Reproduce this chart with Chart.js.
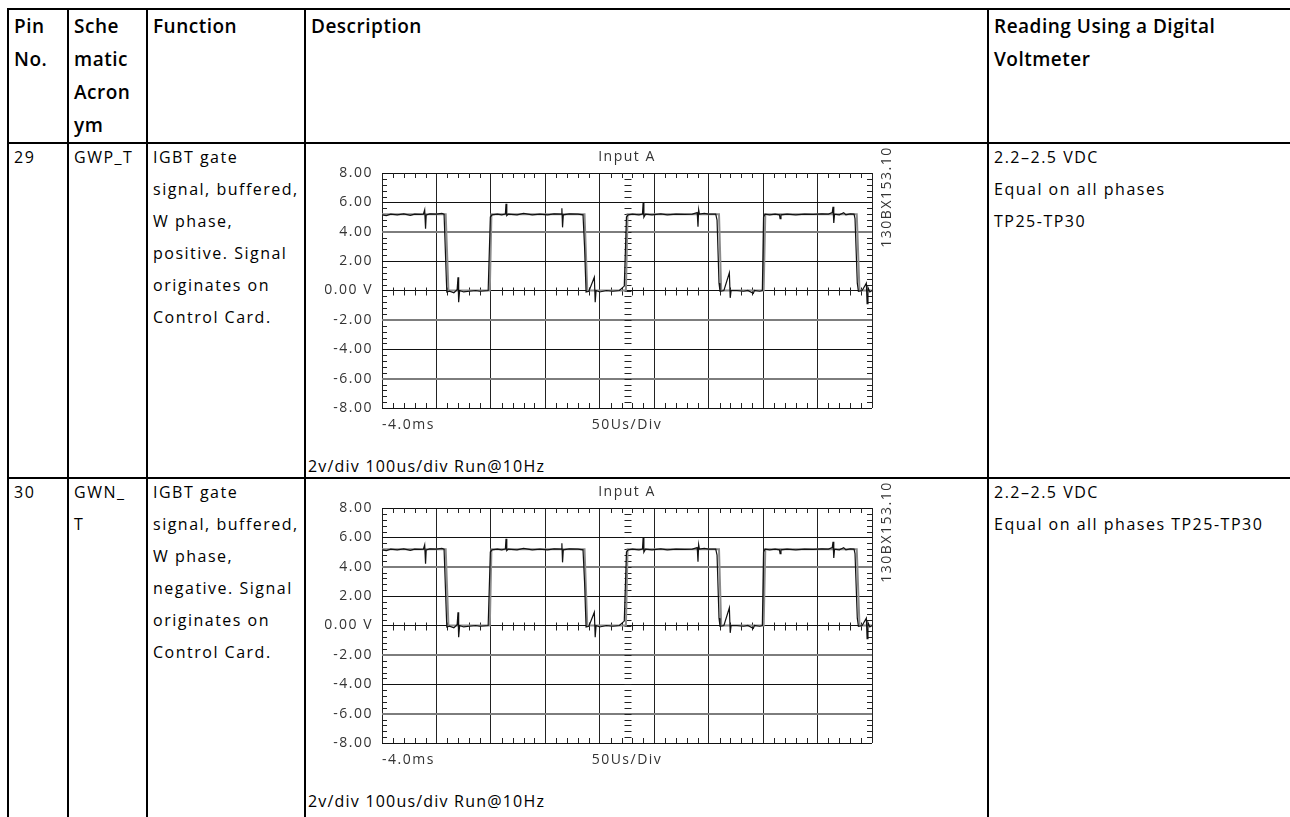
<!DOCTYPE html>
<html>
<head>
<meta charset="utf-8">
<title>GWP_T / GWN_T gate signals</title>
<script src="https://cdn.jsdelivr.net/npm/chart.js@4.4.1/dist/chart.umd.min.js"></script>
<style>
  html, body { margin: 0; padding: 0; background: #fff; overflow: hidden; width: 1290px; height: 817px; }
  body { font-family: 'Open Sans', sans-serif; color: #000; position: relative; }
  table.pins { position: absolute; left: 7px; top: 8px; border-collapse: separate; border-spacing: 0;
               border-top: 2px solid #000; border-left: 2px solid #000; }
  .pins td { padding: 0; border-right: 2px solid #000; border-bottom: 2px solid #000; vertical-align: top; }
  .c { box-sizing: border-box; padding: 0 4px 0 5px; white-space: nowrap; }
  .hd .c { height: 132px; font-size: 19px; font-weight: 600; line-height: 33px; letter-spacing: 0.5px; }
  .rw .c { height: 333px; font-size: 16px; line-height: 32px; letter-spacing: 1.5px; }
  .rw.last .c { height: 360px; }
  .rw .t { margin-top: -3px; }
  .w1 { width: 58px; } .w2 { width: 77px; } .w3 { width: 156px; } .w4 { width: 681px; } .w5 { width: 311px; }
  .scope { position: relative; padding: 0; }
  .scope .box { position: absolute; left: 0; top: 1px; width: 681px; height: 300px; }
  .scope .cap { position: absolute; left: 2px; top: 310px; line-height: 24px; letter-spacing: 1.2px; }
</style>
</head>
<body>

<table class="pins">
  <tr class="hd">
    <td><div class="c w1">Pin<br>No.</div></td>
    <td><div class="c w2">Sche<br>matic<br>Acron<br>ym</div></td>
    <td><div class="c w3">Function</div></td>
    <td><div class="c w4">Description</div></td>
    <td><div class="c w5">Reading Using a Digital<br>Voltmeter</div></td>
  </tr>
  <tr class="rw">
    <td><div class="c w1"><div class="t">29</div></div></td>
    <td><div class="c w2"><div class="t">GWP_T</div></div></td>
    <td><div class="c w3"><div class="t">IGBT gate<br>signal, buffered,<br>W phase,<br>positive. Signal<br>originates on<br>Control Card.</div></div></td>
    <td><div class="c w4 scope">
      <div class="box"><canvas id="scope29" width="681" height="300"></canvas></div>
      <div class="cap">2v/div 100us/div Run@10Hz</div>
    </div></td>
    <td><div class="c w5"><div class="t">2.2–2.5 VDC<br>Equal on all phases<br>TP25-TP30</div></div></td>
  </tr>
  <tr class="rw last">
    <td><div class="c w1"><div class="t">30</div></div></td>
    <td><div class="c w2"><div class="t">GWN_<br>T</div></div></td>
    <td><div class="c w3"><div class="t">IGBT gate<br>signal, buffered,<br>W phase,<br>negative. Signal<br>originates on<br>Control Card.</div></div></td>
    <td><div class="c w4 scope">
      <div class="box"><canvas id="scope30" width="681" height="300"></canvas></div>
      <div class="cap">2v/div 100us/div Run@10Hz</div>
    </div></td>
    <td><div class="c w5"><div class="t">2.2–2.5 VDC<br>Equal on all phases TP25-TP30</div></div></td>
  </tr>
</table>

<script>
// ---------- data (both rows show the same capture) ----------
// measured trace: time in µs from left edge of the screen, voltage in V
const timeUs = [
  0, 4, 8, 14, 20, 26, 30, 35, 38, 39.2, 40, 40.6, 44, 50, 55, 57,
  59.5, 62, 66, 69, 69.8, 70.4, 71.3, 75, 80, 86, 90, 97.5,
  99.5, 101, 106, 110, 113.3, 113.9, 114.6, 116, 124, 130, 138, 145, 152, 158, 164.5, 165.2, 165.8, 166.5, 172, 180, 184.6,
  186, 187.4, 190, 195, 195.8, 196.6, 200, 206, 212, 218, 222.5,
  224.5, 226, 230, 236, 239.2, 239.8, 240.5, 242, 248, 256, 262, 270, 278, 285, 289.5, 290.2, 290.8, 291.5, 296, 300, 306.5, 307.7,
  309.5, 310.4, 314, 319, 319.8, 320.6, 326, 332, 336, 341, 342, 347, 349.3,
  350.4, 351.7, 356, 361, 365, 365.6, 366.4, 372, 380, 388, 396, 404, 410, 413.5, 414.2, 414.9, 415.6, 420, 424, 426, 430, 433.5, 434.4,
  436.5, 437.5, 441, 444.8, 445.5, 446.3, 448, 450
];
const voltV = [
  5.15, 5.1, 5.2, 5.15, 5.22, 5.12, 5.2, 5.18, 5.2, 5.5, 4.2, 5.15, 5.22, 5.2, 5.25, 5.2,
  -0.1, -0.05, -0.15, 0.05, 0.9, -0.8, 0, -0.1, -0.05, 0, -0.05, 0,
  5.0, 5.15, 5.2, 5.15, 5.2, 5.9, 5.1, 5.2, 5.15, 5.25, 5.15, 5.2, 5.15, 5.22, 5.2, 5.6, 4.3, 5.15, 5.22, 5.2, 5.15,
  3.0, -0.1, -0.05, 0.9, -0.8, 0, -0.1, 0, -0.05, 0, 0.3,
  5.0, 5.15, 5.2, 5.15, 5.2, 5.95, 5.0, 5.2, 5.15, 5.22, 5.15, 5.2, 5.18, 5.2, 5.3, 4.35, 5.5, 5.2, 5.25, 5.2, 5.2, 4.8,
  0.5, -0.05, 0, 1.2, -0.5, 0, 0, -0.05, 0, -0.2, 0, -0.05, 0,
  5.0, 5.2, 5.15, 5.2, 5.15, 4.9, 5.15, 5.2, 5.15, 5.2, 5.18, 5.22, 5.2, 5.3, 5.7, 4.6, 5.2, 5.15, 5.3, 5.15, 5.22, 5.2, 4.9,
  0.5, -0.05, 0, 0.5, -0.9, 0.2, -0.1, 0
];
// grey reference trace (clean square wave)
const refTimeUs = [0, 58.5, 61, 99, 100.5, 186, 188.5, 224, 225.5, 309.5, 311.5, 350.5, 352, 436, 438.5, 450];
const refVoltV  = [5.2, 5.2, 0, 0, 5.2, 5.2, 0, 0, 5.2, 5.2, 0, 0, 5.2, 5.2, 0, 0];

// axes
const xMin = 0, xMax = 450, xDiv = 50;          // 9 divisions of 50 µs
const yMin = -8, yMax = 8, yDiv = 2;
const xLabelPos = [0, 225, 450];
const xLabels = ['-4.0ms', '50Us/Div', ''];
const greyGridValues = [4, -2, -6];              // lines that print lighter on the screenshot
const scopeTitle = 'Input A';
const figureId = '130BX153.10';

// ---------- helpers ----------
Chart.defaults.font.family = "'Open Sans', sans-serif";
Chart.defaults.font.size = 14;
Chart.defaults.color = '#333';

function pts(xs, ys) {
  return xs.map((x, i) => ({ x: x, y: ys[i] }));
}

// minor ticks, centre marker and the extra labels of the scope screen
const scopeDecor = {
  id: 'scopeDecor',
  beforeDatasetsDraw(chart) {
    const { ctx, chartArea: a, scales } = chart;
    const sx = scales.x, sy = scales.y;
    const al = v => Math.round(v) + 0.5;
    ctx.save();
    ctx.strokeStyle = '#222';
    ctx.lineWidth = 1;
    ctx.beginPath();
    const y0 = al(sy.getPixelForValue(0));
    const nx = (xMax - xMin) / 10;
    for (let k = 1; k < nx; k++) {
      if (k % 5 === 0) continue;
      const px = al(sx.getPixelForValue(xMin + k * 10));
      ctx.moveTo(px, a.top); ctx.lineTo(px, a.top + 5);
      ctx.moveTo(px, a.bottom); ctx.lineTo(px, a.bottom - 5);
      ctx.moveTo(px, y0 - 4); ctx.lineTo(px, y0 + 4);
    }
    const cx = al(sx.getPixelForValue((xMin + xMax) / 2));
    const ny = (yMax - yMin) / 0.4;
    for (let k = 1; k < ny; k++) {
      const py = al(sy.getPixelForValue(yMin + k * 0.4));
      ctx.moveTo(cx - 3, py); ctx.lineTo(cx + 4, py);
      if (k % 5 === 0) continue;
      ctx.moveTo(a.left, py); ctx.lineTo(a.left + 5, py);
      ctx.moveTo(a.right, py); ctx.lineTo(a.right - 5, py);
    }
    ctx.stroke();

    ctx.fillStyle = '#333';
    ctx.font = "14px 'Open Sans', sans-serif";
    ctx.textAlign = 'center';
    ctx.textBaseline = 'middle';
    ctx.fillText(scopeTitle, (a.left + a.right) / 2, a.top - 16);
    ctx.translate(a.right + 15, a.top + 24);
    ctx.rotate(-Math.PI / 2);
    ctx.fillText(figureId, 0, 0);
    ctx.restore();
  }
};

function makeScope(id) {
  return new Chart(document.getElementById(id), {
    type: 'line',
    data: {
      datasets: [
        { data: pts(timeUs, voltV), borderColor: '#111', borderWidth: 1.2, pointRadius: 0, tension: 0 },
        { data: pts(refTimeUs, refVoltV), borderColor: '#8c8c8c', borderWidth: 2, pointRadius: 0, tension: 0 }
      ]
    },
    options: {
      responsive: false,
      animation: false,
      events: [],
      layout: { padding: { left: 0, top: 28, right: 115, bottom: 0 } },
      plugins: { legend: { display: false }, tooltip: { enabled: false }, title: { display: false } },
      scales: {
        x: {
          type: 'linear', position: 'bottom', min: xMin, max: xMax,
          ticks: { display: false, stepSize: xDiv },
          grid: { color: '#222', lineWidth: 1, drawTicks: false },
          border: { display: false },
          afterFit: s => { s.height = 0; }
        },
        xl: {
          type: 'linear', position: 'bottom', min: xMin, max: xMax,
          afterBuildTicks: s => { s.ticks = xLabelPos.map(v => ({ value: v })); },
          ticks: { autoSkip: false, maxRotation: 0, align: 'inner', padding: 9, color: '#333',
                   callback: (v, i) => xLabels[i] },
          grid: { display: false, drawTicks: false },
          border: { display: false },
          afterFit: s => { s.height = 37; }
        },
        y: {
          min: yMin, max: yMax,
          ticks: { stepSize: yDiv, padding: 9, color: '#333',
                   callback: v => v === 0 ? '0.00 V' : v.toFixed(2) },
          grid: {
            drawTicks: false,
            color: c => greyGridValues.includes(c.tick.value) ? '#7d7d7d' : '#111',
            lineWidth: c => greyGridValues.includes(c.tick.value) ? 2 : 1
          },
          border: { display: false },
          afterFit: s => { s.width = 76; }
        }
      }
    },
    plugins: [scopeDecor]
  });
}

makeScope('scope29');
makeScope('scope30');
</script>
</body>
</html>
